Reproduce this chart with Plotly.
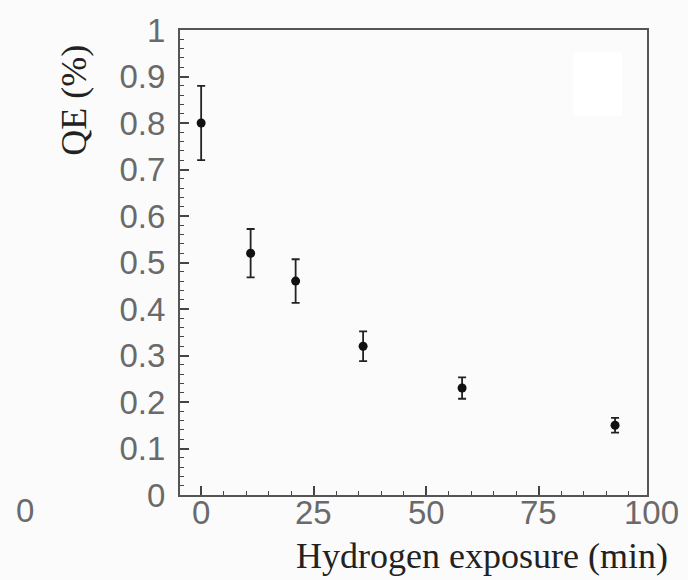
import plotly.graph_objects as go

# Data
exposure_min = [0, 11, 21, 36, 58, 92]
qe_percent = [0.80, 0.52, 0.46, 0.32, 0.23, 0.15]
qe_error = [0.08, 0.052, 0.047, 0.032, 0.023, 0.016]

x_ticks = [0, 25, 50, 75, 100]
x_tick_labels = ["0", "25", "50", "75", "100"]
y_ticks = [0, 0.1, 0.2, 0.3, 0.4, 0.5, 0.6, 0.7, 0.8, 0.9, 1]
y_tick_labels = ["0", "0.1", "0.2", "0.3", "0.4", "0.5", "0.6", "0.7", "0.8", "0.9", "1"]

W, H = 688, 580
L, R, T, B = 180, 41, 21, 85
pw, ph = W - L - R, H - T - B
X_MIN, X_MAX = -4.7, 99.1

fig = go.Figure()
fig.add_trace(go.Scatter(
    x=exposure_min, y=qe_percent, mode="markers",
    marker=dict(color="#111111", size=9),
    error_y=dict(type="data", array=qe_error, visible=True,
                 color="#222222", thickness=1.8, width=4),
    showlegend=False, cliponaxis=False,
))

tick_font = dict(family="Liberation Sans, Arial, sans-serif", size=33, color="#6a6a6a")
title_font = dict(family="Liberation Serif, Times New Roman, serif", size=36, color="#222222")

fig.update_layout(
    width=W, height=H,
    margin=dict(l=L, r=R, t=T, b=B),
    paper_bgcolor="#fbfbfb", plot_bgcolor="#fbfbfb",
    xaxis=dict(
        range=[X_MIN, X_MAX], tickvals=x_ticks, showticklabels=False,
        ticks="inside", ticklen=9, tickwidth=1.5, tickcolor="#444444",
        minor=dict(dtick=5, ticks="inside", ticklen=4, tickwidth=1.2, tickcolor="#444444", showgrid=False),
        showline=True, linecolor="#555555", linewidth=2, mirror=True,
        showgrid=False, zeroline=False,
    ),
    yaxis=dict(
        range=[0, 1], tickvals=y_ticks, ticktext=y_tick_labels,
        ticks="inside", ticklen=9, tickwidth=1.5, tickcolor="#444444",
        minor=dict(dtick=0.02, ticks="inside", ticklen=4, tickwidth=1.2, tickcolor="#444444", showgrid=False),
        showline=True, linecolor="#555555", linewidth=2, mirror=True,
        showgrid=False, zeroline=False, tickfont=tick_font, ticklabelstandoff=6,
    ),
)

def px_x(p):
    return (p - L) / pw

def px_y(p):
    return 1 - (p - T) / ph

def data_to_paper_x(v):
    return (v - X_MIN) / (X_MAX - X_MIN)

# x tick labels (the 100 label sits just past the frame's right edge)
for v, lab in zip(x_ticks, x_tick_labels):
    fig.add_annotation(x=data_to_paper_x(v), y=px_y(513), xref="paper", yref="paper",
                       text=lab, showarrow=False, font=tick_font,
                       xanchor="center", yanchor="middle")

# white blank box (empty legend area) in the top-right
fig.add_shape(type="rect", xref="paper", yref="paper",
              x0=px_x(573), x1=px_x(622), y0=px_y(109), y1=px_y(44),
              fillcolor="#ffffff", line=dict(width=0), layer="below")

# stray "0" at far left
fig.add_annotation(x=px_x(25), y=px_y(511), xref="paper", yref="paper", text="0",
                   showarrow=False, font=tick_font, xanchor="center", yanchor="middle")

# axis titles
fig.add_annotation(x=px_x(482), y=px_y(557), xref="paper", yref="paper",
                   text="Hydrogen exposure (min)", showarrow=False, font=title_font,
                   xanchor="center", yanchor="middle")
fig.add_annotation(x=px_x(74), y=px_y(93), xref="paper", yref="paper",
                   text="QE (%)", showarrow=False, font=title_font, textangle=-90,
                   xanchor="center", yanchor="middle")

fig.write_html("out.html")
